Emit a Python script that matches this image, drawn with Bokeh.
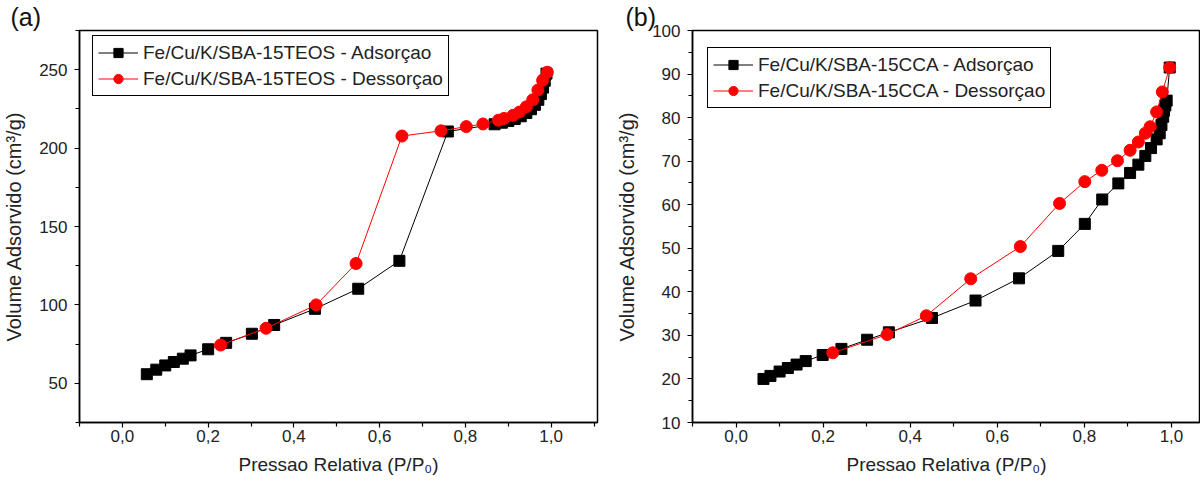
from bokeh.plotting import figure
from bokeh.models import (FixedTicker, CustomJSTickFormatter, Legend, LegendItem)
from bokeh.layouts import row
from bokeh.embed import file_html
from bokeh.resources import INLINE

# ---- data ----
ads_a_p = [0.057, 0.079, 0.100, 0.120, 0.141, 0.159, 0.200, 0.242, 0.302, 0.354, 0.449, 0.550, 0.646,
           0.759, 0.868, 0.885, 0.900, 0.915, 0.929, 0.942, 0.953, 0.962, 0.970, 0.976, 0.981, 0.985, 0.989]
ads_a_v = [55.8, 58.7, 61.4, 63.6, 65.7, 67.8, 71.7, 75.8, 81.6, 87.2, 97.5, 110.3, 128.1,
           210.6, 215.2, 216.2, 217.3, 218.6, 220.3, 222.4, 224.8, 227.6, 230.8, 234.5, 238.6, 243.0, 247.5]
des_a_p = [0.991, 0.980, 0.969, 0.957, 0.942, 0.926, 0.911, 0.890, 0.877, 0.841, 0.802, 0.743, 0.652,
           0.545, 0.452, 0.335, 0.229]
des_a_v = [248.4, 243.2, 237.0, 230.8, 226.3, 223.0, 220.9, 218.9, 217.8, 215.4, 213.7, 211.0, 207.7,
           126.4, 100.0, 85.1, 74.4]

ads_b_p = [0.063, 0.079, 0.100, 0.119, 0.139, 0.160, 0.199, 0.242, 0.301, 0.351, 0.450, 0.550, 0.650,
           0.740, 0.801, 0.841, 0.878, 0.905, 0.924, 0.940, 0.953, 0.966, 0.973, 0.977, 0.981, 0.983,
           0.986, 0.989, 0.996]
ads_b_v = [20.0, 20.7, 21.7, 22.5, 23.3, 24.1, 25.5, 26.9, 29.0, 30.7, 34.0, 38.0, 43.1,
           49.4, 55.6, 61.2, 64.9, 67.3, 69.2, 71.2, 73.0, 75.0, 76.4, 78.3, 80.2, 81.6,
           82.8, 83.9, 91.5]
des_b_p = [0.996, 0.979, 0.966, 0.951, 0.940, 0.924, 0.905, 0.876, 0.840, 0.801, 0.743, 0.653,
           0.539, 0.437, 0.347, 0.222]
des_b_v = [91.5, 85.9, 81.3, 77.9, 76.4, 74.4, 72.5, 70.1, 67.9, 65.3, 60.3, 50.4,
           43.0, 34.5, 30.2, 26.0]

x_major = [0.0, 0.2, 0.4, 0.6, 0.8, 1.0]
x_minor = [-0.1, 0.1, 0.3, 0.5, 0.7, 0.9, 1.1]
y_major_a = [50, 100, 150, 200, 250]
y_minor_a = [25, 75, 125, 175, 225, 275]
y_major_b = [10, 20, 30, 40, 50, 60, 70, 80, 90, 100]
y_minor_b = [15, 25, 35, 45, 55, 65, 75, 85, 95]

labels_a = ["Fe/Cu/K/SBA-15TEOS - Adsorçao", "Fe/Cu/K/SBA-15TEOS - Dessorçao"]
labels_b = ["Fe/Cu/K/SBA-15CCA - Adsorçao", "Fe/Cu/K/SBA-15CCA - Dessorçao"]

FONT = "Liberation Sans"
fmt = CustomJSTickFormatter(code="return tick.toFixed(1).replace('.', ',');")


def make_panel(width, height, xr, yr, bl, br, bt, bb, ymaj, ymin,
               adp, adv, dep, dev, labels, tag, tag_offset, leg_pos):
    p = figure(width=width, height=height, x_range=xr, y_range=yr, title=tag,
               output_backend="svg", toolbar_location=None,
               min_border_left=bl, min_border_right=br, min_border_top=bt, min_border_bottom=bb)
    # panel tag "(a)"/"(b)" as the figure title, pushed left of the frame
    p.title.align = "left"
    p.title.offset = tag_offset
    p.title.standoff = 0
    p.title.text_font = FONT
    p.title.text_font_size = "25px"
    p.title.text_font_style = "normal"
    p.title.text_color = "#111111"
    p.title.vertical_align = "bottom"

    p.grid.visible = False
    p.outline_line_color = "black"
    p.outline_line_width = 1.5
    p.outline_line_alpha = 1
    p.background_fill_color = "white"
    p.border_fill_color = "white"

    p.xaxis.ticker = FixedTicker(ticks=x_major, minor_ticks=x_minor)
    p.xaxis.formatter = fmt
    p.yaxis.ticker = FixedTicker(ticks=ymaj, minor_ticks=ymin)
    for ax in (p.xaxis[0], p.yaxis[0]):
        ax.axis_line_width = 1.5
        ax.axis_line_color = "black"
        ax.major_tick_line_color = "black"
        ax.minor_tick_line_color = "black"
        ax.major_tick_line_width = 1.2
        ax.minor_tick_line_width = 1.2
        ax.major_tick_in = 0
        ax.major_tick_out = 5
        ax.minor_tick_in = 0
        ax.minor_tick_out = 4
        ax.major_label_text_font = FONT
        ax.major_label_text_font_size = "17px"
        ax.major_label_text_color = "#222222"
        ax.axis_label_text_font = FONT
        ax.axis_label_text_font_size = "20px"
        ax.axis_label_text_font_style = "normal"
        ax.axis_label_text_color = "#222222"
    p.xaxis.major_label_standoff = 2
    p.xaxis.axis_label_standoff = 9
    p.xaxis[0].axis_label_text_font_size = "19px"
    p.yaxis.major_label_standoff = 7
    p.yaxis.axis_label_standoff = 11
    p.xaxis.axis_label = "Pressao Relativa (P/P\u2080)"
    p.yaxis.axis_label = "Volume Adsorvido (cm\u00b3/g)"

    l1 = p.line(adp, adv, line_color="black", line_width=1)
    s1 = p.scatter(adp, adv, marker="square", size=11, fill_color="black", line_color="black")
    l2 = p.line(dep, dev, line_color="red", line_width=1)
    s2 = p.scatter(dep, dev, marker="circle", size=12, fill_color="red", line_color="red")

    leg = Legend(items=[LegendItem(label=labels[0], renderers=[l1, s1]),
                        LegendItem(label=labels[1], renderers=[l2, s2])],
                 location=leg_pos)
    leg.label_text_font = FONT
    leg.label_text_font_size = "19px"
    leg.label_text_color = "#222222"
    leg.border_line_color = "black"
    leg.border_line_width = 1
    leg.border_line_alpha = 1
    leg.background_fill_alpha = 1
    leg.padding = 5
    leg.spacing = 3
    leg.margin = 0
    leg.glyph_width = 40
    leg.glyph_height = 23
    leg.label_height = 23
    leg.label_standoff = 5
    p.add_layout(leg, "center")
    return p


pa = make_panel(600, 490, (-0.1, 1.108), (25, 275), 79, 3, 25, 62, y_major_a, y_minor_a,
                ads_a_p, ads_a_v, des_a_p, des_a_v, labels_a, "(a)", -69, (13, 326))
pb = make_panel(600, 490, (-0.1, 1.0667), (10, 100), 92, 0, 22, 68, y_major_b, y_minor_b,
                ads_b_p, ads_b_v, des_b_p, des_b_v, labels_b, "(b)", -67, (15, 314))

layout = row(pa, pb)
open("out.html", "w").write(file_html(layout, INLINE))
